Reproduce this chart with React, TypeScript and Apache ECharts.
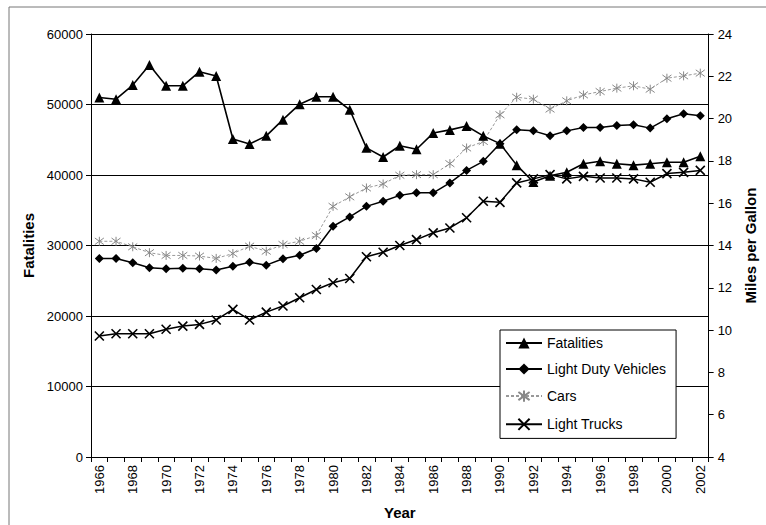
import React, { useEffect, useRef } from "react";
import * as echarts from "echarts";

const years: string[] = [];
for (let y = 1966; y <= 2002; y++) years.push(String(y));

const fatalities = [
  51000, 50750, 52750, 55600, 52650, 52650, 54650, 54050, 45100, 44400,
  45550, 47850, 50050, 51100, 51100, 49250, 43850, 42550, 44150, 43650,
  45950, 46400, 46950, 45550, 44450, 41400, 39000, 39900, 40400, 41600,
  41950, 41600, 41400, 41600, 41800, 41800, 42650,
];

const lightDutyVehicles = [
  13.39, 13.39, 13.18, 12.95, 12.9, 12.92, 12.9, 12.84, 13.02, 13.21,
  13.07, 13.37, 13.54, 13.86, 14.91, 15.35, 15.85, 16.09, 16.37, 16.49,
  16.49, 16.96, 17.55, 17.98, 18.81, 19.47, 19.42, 19.19, 19.42, 19.58,
  19.58, 19.67, 19.71, 19.55, 19.99, 20.23, 20.13,
];

const cars = [
  14.2, 14.2, 13.94, 13.66, 13.53, 13.53, 13.5, 13.39, 13.62, 13.97,
  13.73, 14.05, 14.2, 14.47, 15.85, 16.3, 16.72, 16.91, 17.32, 17.35,
  17.35, 17.87, 18.61, 18.92, 20.18, 21.01, 20.92, 20.45, 20.84, 21.12,
  21.28, 21.44, 21.55, 21.39, 21.91, 22.02, 22.15,
];

const lightTrucks = [
  9.72, 9.83, 9.83, 9.83, 10.04, 10.19, 10.27, 10.48, 10.98, 10.48,
  10.85, 11.14, 11.53, 11.92, 12.24, 12.44, 13.47, 13.68, 14.0, 14.28,
  14.6, 14.83, 15.31, 16.09, 16.04, 16.96, 17.15, 17.35, 17.15, 17.27,
  17.19, 17.19, 17.15, 16.99, 17.4, 17.46, 17.55,
];

const FONT = "'Liberation Sans', Arial, sans-serif";
const XMARK = "path://M-4,-4L4,4M-4,4L4,-4";
const STAR = "path://M-4,-4L4,4M-4,4L4,-4M0,-5.5L0,5.5";

export default function App() {
  const ref = useRef<HTMLDivElement>(null);
  useEffect(() => {
    if (!ref.current) return;
    const chart = echarts.init(ref.current, null, { renderer: "svg" });
    chart.setOption({
      animation: false,
      textStyle: { fontFamily: FONT },
      grid: { left: 91, right: 50, top: 34, bottom: 67, containLabel: false },
      graphic: [
        {
          type: "rect",
          shape: { x: 9, y: 7, width: 800, height: 560 },
          style: { fill: "none", stroke: "#777", lineWidth: 1 },
          silent: true,
          z: -1,
        },
      ],
      legend: {
        orient: "vertical",
        left: 500,
        top: 330,
        width: 183,
        padding: [6, 10, 6, 5],
        itemGap: 12,
        itemWidth: 36,
        itemHeight: 14,
        backgroundColor: "#fff",
        borderColor: "#000",
        borderWidth: 1,
        textStyle: { fontFamily: FONT, fontSize: 14, color: "#000" },
        data: ["Fatalities", "Light Duty Vehicles", "Cars", "Light Trucks"],
      },
      xAxis: {
        type: "category",
        data: years,
        boundaryGap: true,
        name: "Year",
        nameLocation: "middle",
        nameGap: 48,
        nameTextStyle: { fontFamily: FONT, fontSize: 15, fontWeight: "bold", color: "#000" },
        axisLine: { lineStyle: { color: "#000", width: 1 } },
        axisTick: { show: true, interval: 0, length: 5, lineStyle: { color: "#000" } },
        axisLabel: { interval: 1, rotate: 90, fontSize: 13, color: "#000", margin: 8, fontFamily: FONT },
        splitLine: { show: false },
      },
      yAxis: [
        {
          type: "value",
          min: 0,
          max: 60000,
          interval: 10000,
          name: "Fatalities",
          nameLocation: "middle",
          nameRotate: 90,
          nameGap: 50,
          nameTextStyle: { fontFamily: FONT, fontSize: 15, fontWeight: "bold", color: "#000" },
          axisLine: { show: true, lineStyle: { color: "#000", width: 1 } },
          axisTick: { show: true, length: 5, lineStyle: { color: "#000" } },
          axisLabel: {
            fontSize: 13,
            color: "#000",
            margin: 8,
            fontFamily: FONT,
            formatter: (v: number) => String(v),
          },
          splitLine: { show: true, lineStyle: { color: "#000", width: 1 } },
        },
        {
          type: "value",
          min: 4,
          max: 24,
          interval: 2,
          position: "right",
          name: "Miles per Gallon",
          nameLocation: "middle",
          nameRotate: 90,
          nameGap: 30,
          nameTextStyle: { fontFamily: FONT, fontSize: 15, fontWeight: "bold", color: "#000" },
          axisLine: { show: true, lineStyle: { color: "#000", width: 1 } },
          axisTick: { show: true, length: 5, lineStyle: { color: "#000" } },
          axisLabel: { fontSize: 13, color: "#000", margin: 9, fontFamily: FONT },
          splitLine: { show: false },
        },
      ],
      series: [
        {
          name: "Fatalities",
          type: "line",
          yAxisIndex: 0,
          data: fatalities,
          symbol: "triangle",
          symbolSize: 10,
          lineStyle: { color: "#000", width: 1.6 },
          itemStyle: { color: "#000" },
          z: 4,
        },
        {
          name: "Light Duty Vehicles",
          type: "line",
          yAxisIndex: 1,
          data: lightDutyVehicles,
          symbol: "diamond",
          symbolSize: 9,
          lineStyle: { color: "#000", width: 1.5 },
          itemStyle: { color: "#000" },
          z: 3,
        },
        {
          name: "Cars",
          type: "line",
          yAxisIndex: 1,
          data: cars,
          symbol: STAR,
          symbolSize: 9,
          lineStyle: { color: "#999", width: 1, type: [3, 2] },
          itemStyle: { color: "none", borderColor: "#888", borderWidth: 1 },
          z: 2,
        },
        {
          name: "Light Trucks",
          type: "line",
          yAxisIndex: 1,
          data: lightTrucks,
          symbol: XMARK,
          symbolSize: 9,
          lineStyle: { color: "#000", width: 1.5 },
          itemStyle: { color: "none", borderColor: "#000", borderWidth: 1.6 },
          z: 3,
        },
      ],
    });
    return () => chart.dispose();
  }, []);
  return (
    <div
      ref={ref}
      style={{ position: "absolute", left: 0, top: 0, width: 766, height: 525, background: "#fff" }}
    />
  );
}
